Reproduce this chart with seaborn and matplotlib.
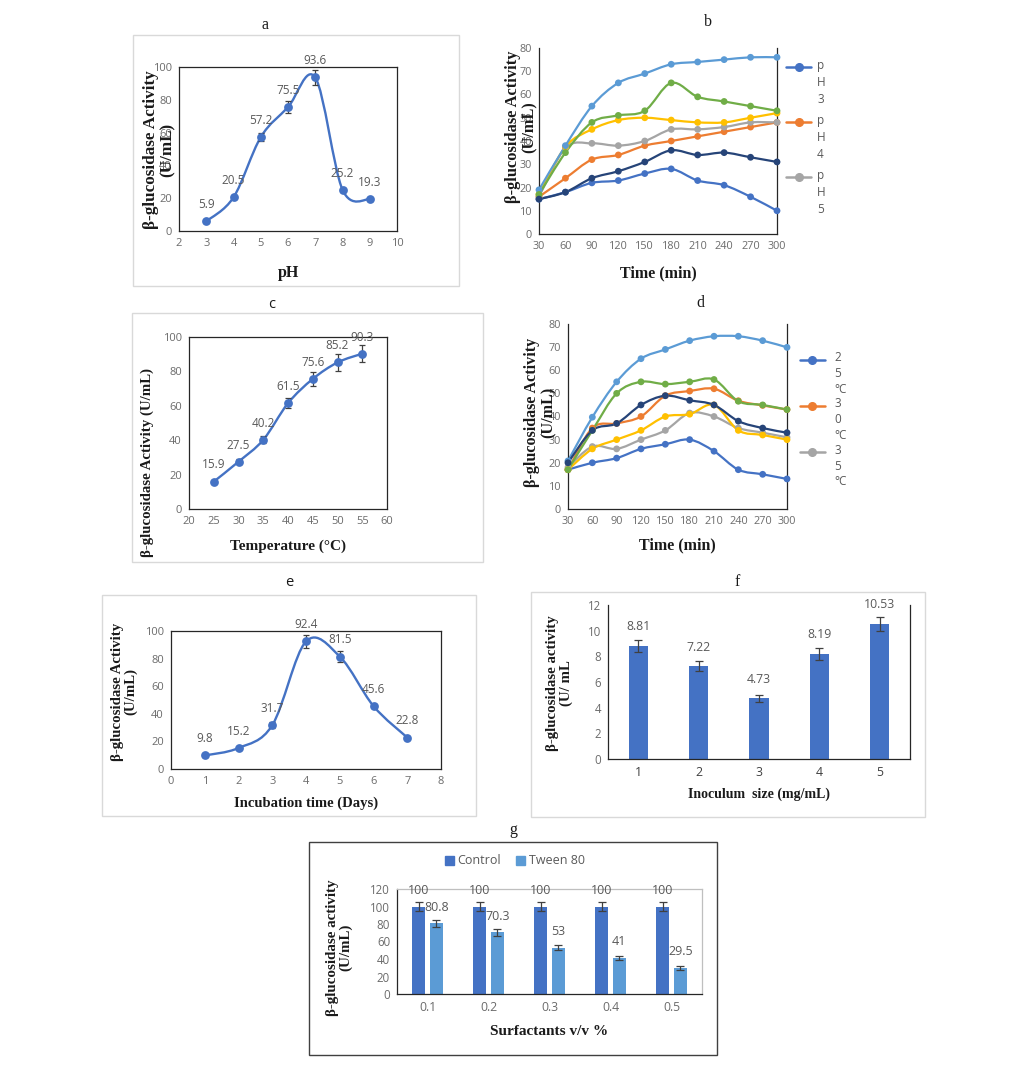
import numpy as np
import pandas as pd
import matplotlib
matplotlib.use("Agg")
import matplotlib.pyplot as plt
from matplotlib.path import Path
from matplotlib.patches import PathPatch, Rectangle, Patch
from matplotlib.lines import Line2D
from matplotlib.legend_handler import HandlerLine2D
import seaborn as sns

# ─────────────────────────────────────────────
# Data
# ─────────────────────────────────────────────

# a: effect of pH
ph_values = [3, 4, 5, 6, 7, 8, 9]
ph_activity = [5.9, 20.5, 57.2, 75.5, 93.6, 25.2, 19.3]
ph_err = [0.8, 1.2, 2.5, 3.5, 4.5, 1.2, 0.8]

# b: time course at different pH
time_min = [30, 60, 90, 120, 150, 180, 210, 240, 270, 300]
b_ph3 = [15, 18, 22, 23, 26, 28, 23, 21, 16, 10]
b_ph4 = [16, 24, 32, 34, 38, 40, 42, 44, 46, 48]
b_ph5 = [16, 37, 39, 38, 40, 45, 45, 46, 48, 48]
b_ph6 = [17, 37.5, 45, 49, 50, 49, 48, 48, 50, 52]
b_ph7 = [19, 38, 55, 65, 69, 73, 74, 75, 76, 76]
b_ph8 = [17, 35, 48, 51, 53, 65, 59, 57, 55, 53]
b_ph9 = [15, 18, 24, 27, 31, 36, 34, 35, 33, 31]
b_legend = ["p\nH\n3", "p\nH\n4", "p\nH\n5"]

# c: effect of temperature
temp_values = [25, 30, 35, 40, 45, 50, 55]
temp_activity = [15.9, 27.5, 40.2, 61.5, 75.6, 85.2, 90.3]
temp_err = [1.0, 1.5, 2.0, 3.0, 4.0, 4.8, 5.0]

# d: time course at different temperature
d_t25 = [17, 20, 22, 26, 28, 30, 25, 17, 15, 13]
d_t30 = [17, 35, 37, 40, 49, 51, 52, 46.8, 44.8, 43]
d_t35 = [18, 27, 26, 30, 34, 41.5, 40, 35, 33, 31]
d_t40 = [17, 26, 30, 34, 40, 41, 45, 34, 32, 30]
d_t45 = [20.8, 39.7, 55, 65, 69, 72.8, 74.7, 74.7, 72.8, 69.9]
d_t50 = [17, 34, 50, 55, 54, 55, 56, 46.6, 45, 43]
d_t55 = [20, 34, 37, 45, 49, 47, 45, 38, 35, 33]
d_legend = ["2\n5\n°C", "3\n0\n°C", "3\n5\n°C"]

# e: incubation time
days = [1, 2, 3, 4, 5, 6, 7]
day_activity = [9.8, 15.2, 31.7, 92.4, 81.5, 45.6, 22.8]
day_err = [0.8, 1.0, 2.0, 5.0, 4.0, 1.5, 1.0]

# f: inoculum size
inoculum = ["1", "2", "3", "4", "5"]
inoculum_activity = [8.81, 7.22, 4.73, 8.19, 10.53]
inoculum_err = [0.45, 0.4, 0.25, 0.45, 0.55]

# g: surfactants
surf_conc = ["0.1", "0.2", "0.3", "0.4", "0.5"]
control_activity = [100, 100, 100, 100, 100]
control_err = [5, 5, 5, 5, 5]
tween_activity = [80.8, 70.3, 53, 41, 29.5]
tween_err = [4, 3.5, 3, 2, 2]

EXCEL = ["#4472C4", "#ED7D31", "#A5A5A5", "#FFC000", "#5B9BD5", "#70AD47", "#264478"]
BLUE = "#4472C4"
TICK_C = "#6b6b6b"
LABEL_C = "#595959"
SERIF = "Liberation Serif"
SANS = "Open Sans"

W, H = 1013, 1080

sns.set_style("white")
plt.rcParams["font.family"] = [SANS, "DejaVu Sans"]

fig = plt.figure(figsize=(W / 100, H / 100), dpi=100)


def add_ax(l, t, r, b):
    return fig.add_axes([l / W, 1 - b / H, (r - l) / W, (b - t) / H])


def frame(l, t, r, b, color="#D9D9D9"):
    fig.add_artist(Rectangle((l / W, 1 - b / H), (r - l) / W, (b - t) / H,
                             transform=fig.transFigure, fill=False,
                             ec=color, lw=1.0))


def title(x, y, s, family=SERIF, size=11.5):
    fig.text(x / W, 1 - y / H, s, ha="center", va="center",
             family=family, fontsize=size, color="#1a1a1a")


def smooth_path(x, y):
    """Excel-like smoothed line: Catmull-Rom segments as cubic Beziers."""
    pts = np.column_stack([x, y]).astype(float)
    ext = np.vstack([pts[0], pts, pts[-1]])
    verts, codes = [pts[0]], [Path.MOVETO]
    for i in range(len(pts) - 1):
        p0, p1, p2, p3 = ext[i], ext[i + 1], ext[i + 2], ext[i + 3]
        verts += [p1 + (p2 - p0) / 6, p2 - (p3 - p1) / 6, p2]
        codes += [Path.CURVE4] * 3
    return Path(verts, codes)


def smooth_line(ax, x, y, color, lw=1.6, z=2):
    ax.add_patch(PathPatch(smooth_path(x, y), fill=False, ec=color, lw=lw,
                           zorder=z, capstyle="round", joinstyle="round"))


class FirstLineHandler(HandlerLine2D):
    """Put the legend key next to the first line of a multi-line label."""

    def __init__(self, shift, **kw):
        super().__init__(**kw)
        self.shift = shift

    def create_artists(self, legend, orig_handle, xdescent, ydescent,
                       width, height, fontsize, trans):
        arts = super().create_artists(legend, orig_handle, xdescent, ydescent,
                                      width, height, fontsize, trans)
        for a in arts:
            a.set_ydata(np.asarray(a.get_ydata(), float) + self.shift * fontsize)
        return arts


def style_axes(ax, top=True, right=True, fs=8):
    for sp in ax.spines.values():
        sp.set_color("#262626")
        sp.set_linewidth(0.9)
    ax.spines["top"].set_visible(top)
    ax.spines["right"].set_visible(right)
    ax.tick_params(axis="both", direction="out", length=3, width=0.8,
                   colors="#262626", labelcolor=TICK_C, labelsize=fs, pad=2)


def labels(ax, xl, xy, yl, ycoords, xfs=10.5, yfs=10):
    ax.set_xlabel(xl, family=SERIF, fontweight="bold", fontsize=xfs,
                  color="#1a1a1a", va="center")
    ax.xaxis.set_label_coords(0.5, xy)
    ax.set_ylabel(yl, family=SERIF, fontweight="bold", fontsize=yfs,
                  color="#1a1a1a", va="center", ha="center",
                  multialignment="center", linespacing=1.05)
    ax.yaxis.set_label_coords(*ycoords)


def point_panel(ax, x, y, err, offset=12):
    smooth_line(ax, x, y, BLUE, lw=1.7)
    ax.errorbar(x, y, yerr=err, fmt="none", ecolor="#404040", elinewidth=0.9,
                capsize=2.5, capthick=0.9, zorder=3)
    sns.scatterplot(x=x, y=y, ax=ax, color=BLUE, s=40, edgecolor=BLUE,
                    linewidth=0, zorder=4, legend=False, clip_on=False)
    for xi, yi in zip(x, y):
        ax.annotate(f"{yi:g}", (xi, yi), xytext=(0, offset),
                    textcoords="offset points", ha="center", va="center",
                    fontsize=8.5, color=LABEL_C)


def time_panel(ax, series, legend_labels, anchor, spacing, textpad, linesp):
    df = pd.DataFrame({"time": np.tile(time_min, len(series)),
                       "activity": np.concatenate(series),
                       "series": np.repeat(range(len(series)), len(time_min))})
    for i, s in enumerate(series):
        smooth_line(ax, time_min, s, EXCEL[i], lw=1.6, z=2 + i * 0.1)
    sns.scatterplot(data=df, x="time", y="activity", hue="series",
                    palette=EXCEL[:len(series)], s=24, linewidth=0,
                    ax=ax, legend=False, zorder=5, clip_on=False)
    ax.set_xlim(30, 300)
    ax.set_ylim(0, 80)
    ax.set_xticks(time_min)
    ax.set_yticks(range(0, 81, 10))
    handles = [Line2D([], [], color=EXCEL[i], marker="o", ms=5.5, lw=1.8)
               for i in range(len(legend_labels))]
    leg = ax.legend(handles, legend_labels, loc="upper left",
                    bbox_to_anchor=anchor, frameon=False, fontsize=8.5,
                    labelcolor=LABEL_C, handlelength=2.1,
                    handletextpad=textpad, labelspacing=spacing,
                    borderaxespad=0,
                    handler_map={Line2D: FirstLineHandler(0.97 * linesp)})
    for t in leg.get_texts():
        t.set_linespacing(linesp)


# ─────────────────────────────────────────────
# Frames and panel letters
# ─────────────────────────────────────────────
frame(133, 35, 459, 286)
frame(132, 313, 483, 562)
frame(102, 595, 476, 816)
frame(531, 592, 925, 817)
frame(309, 842, 717, 1055, color="#404040")

title(265, 25, "a")
title(708, 22, "b")
title(272, 304, "c", family=SANS, size=10.5)
title(700, 303, "d")
title(289, 583, "e", family=SANS, size=10.5)
title(737, 582, "f")
title(513, 830, "g")

# ─────────────────────────────────────────────
# a: pH
# ─────────────────────────────────────────────
ax = add_ax(179, 67, 397, 231)
point_panel(ax, ph_values, ph_activity, ph_err)
ax.set_xlim(2, 10)
ax.set_ylim(0, 100)
ax.set_xticks(range(2, 11))
ax.set_yticks(range(0, 101, 20))
style_axes(ax)
labels(ax, "pH", -0.256, "β-glucosidase Activity\n(U/mL)", (-0.092, 0.494),
       xfs=11.5, yfs=12.3)

# ─────────────────────────────────────────────
# b: time course, pH
# ─────────────────────────────────────────────
ax = add_ax(539, 48, 777, 234)
time_panel(ax, [b_ph3, b_ph4, b_ph5, b_ph6, b_ph7, b_ph8, b_ph9], b_legend,
           (1.02, 0.966), spacing=0.65, textpad=0.5, linesp=1.41)
style_axes(ax, top=False, fs=7.8)
labels(ax, "Time (min)", -0.21, "β-glucosidase Activity\n(U/mL)",
       (-0.076, 0.575), xfs=11.5, yfs=11.8)

# ─────────────────────────────────────────────
# c: temperature
# ─────────────────────────────────────────────
ax = add_ax(189, 337, 387, 509)
point_panel(ax, temp_values, temp_activity, temp_err)
ax.set_xlim(20, 60)
ax.set_ylim(0, 100)
ax.set_xticks(range(20, 61, 5))
ax.set_yticks(range(0, 101, 20))
style_axes(ax)
labels(ax, "Temperature (°C)", -0.215, "β-glucosidase Activity (U/mL)",
       (-0.212, 0.273), xfs=11, yfs=10.7)

# ─────────────────────────────────────────────
# d: time course, temperature
# ─────────────────────────────────────────────
ax = add_ax(568, 324, 787, 509)
time_panel(ax, [d_t25, d_t30, d_t35, d_t40, d_t45, d_t50, d_t55], d_legend,
           (1.037, 0.879), spacing=0.15, textpad=0.8, linesp=1.28)
style_axes(ax, top=False, fs=7.8)
labels(ax, "Time (min)", -0.195, "β-glucosidase Activity\n(U/mL)",
       (-0.128, 0.52), xfs=11.5, yfs=11.6)

# ─────────────────────────────────────────────
# e: incubation time
# ─────────────────────────────────────────────
ax = add_ax(171, 631, 441, 769)
point_panel(ax, days, day_activity, day_err)
ax.set_xlim(0, 8)
ax.set_ylim(0, 100)
ax.set_xticks(range(0, 9))
ax.set_yticks(range(0, 101, 20))
style_axes(ax)
labels(ax, "Incubation time (Days)", -0.246, "β-glucosidase Activity\n(U/mL)",
       (-0.174, 0.56), xfs=10.5, yfs=10.7)

# ─────────────────────────────────────────────
# f: inoculum size
# ─────────────────────────────────────────────
ax = add_ax(608, 605, 910, 759)
df_f = pd.DataFrame({"size": inoculum, "activity": inoculum_activity})
sns.barplot(data=df_f, x="size", y="activity", color=BLUE, saturation=1,
            width=0.32, errorbar=None, linewidth=0, ax=ax)
bars = ax.containers[0]
xc = [p.get_x() + p.get_width() / 2 for p in bars]
ax.errorbar(xc, inoculum_activity, yerr=inoculum_err, fmt="none",
            ecolor="#404040", elinewidth=0.9, capsize=3, capthick=0.9, zorder=3)
ax.bar_label(bars, labels=[f"{v:g}" for v in inoculum_activity], padding=9,
             fontsize=8.8, color=LABEL_C)
ax.set_xlim(-0.5, 4.5)
ax.set_ylim(0, 12)
ax.set_yticks(range(0, 13, 2))
style_axes(ax, top=False, fs=8.3)
ax.set_xticks(np.arange(-0.5, 5, 1), minor=True)
ax.tick_params(axis="x", which="major", length=0, labelcolor="#404040",
               labelsize=8.8, pad=5)
ax.tick_params(axis="x", which="minor", length=4, width=0.8, color="#262626")
labels(ax, "Inoculum  size (mg/mL)", -0.227, "β-glucosidase activity\n(U/ mL",
       (-0.159, 0.49), xfs=10, yfs=10.7)

# ─────────────────────────────────────────────
# g: surfactants
# ─────────────────────────────────────────────
ax = add_ax(397, 889, 702, 994)
df_g = pd.DataFrame({"conc": surf_conc * 2,
                     "activity": control_activity + tween_activity,
                     "group": ["Control"] * 5 + ["Tween 80"] * 5})
sns.barplot(data=df_g, x="conc", y="activity", hue="group",
            palette=[BLUE, "#5B9BD5"], saturation=1, width=0.58, gap=0.25,
            errorbar=None, linewidth=0, legend=False, ax=ax)
for cont, vals, errs in zip(ax.containers, [control_activity, tween_activity],
                            [control_err, tween_err]):
    xc = [p.get_x() + p.get_width() / 2 for p in cont]
    ax.errorbar(xc, vals, yerr=errs, fmt="none", ecolor="#404040",
                elinewidth=0.9, capsize=3, capthick=0.9, zorder=3)
    ax.bar_label(cont, labels=[f"{v:g}" for v in vals], padding=7,
                 fontsize=9, color=LABEL_C)
ax.set_xlim(-0.5, 4.5)
ax.set_ylim(0, 120)
ax.set_yticks(range(0, 121, 20))
style_axes(ax, top=True, fs=8.3)
ax.spines["top"].set_color("#bfbfbf")
ax.spines["right"].set_color("#bfbfbf")
ax.set_xticks(np.arange(-0.5, 5, 1), minor=True)
ax.tick_params(axis="x", which="major", length=0, labelsize=8.8, pad=5)
ax.tick_params(axis="x", which="minor", length=4, width=0.8, color="#262626")
labels(ax, "Surfactants v/v %", -0.36, "β-glucosidase activity\n(U/mL)",
       (-0.19, 0.44), xfs=11, yfs=10.8)
handles = [Patch(color=BLUE), Patch(color="#5B9BD5")]
fig.legend(handles, ["Control", "Tween 80"], loc="center",
           bbox_to_anchor=(515 / W, 1 - 861 / H), ncol=2, frameon=False,
           fontsize=9, labelcolor=LABEL_C, handlelength=0.7, handleheight=0.7,
           handletextpad=0.3, columnspacing=1.2)

fig.savefig("out.png", dpi=100)
